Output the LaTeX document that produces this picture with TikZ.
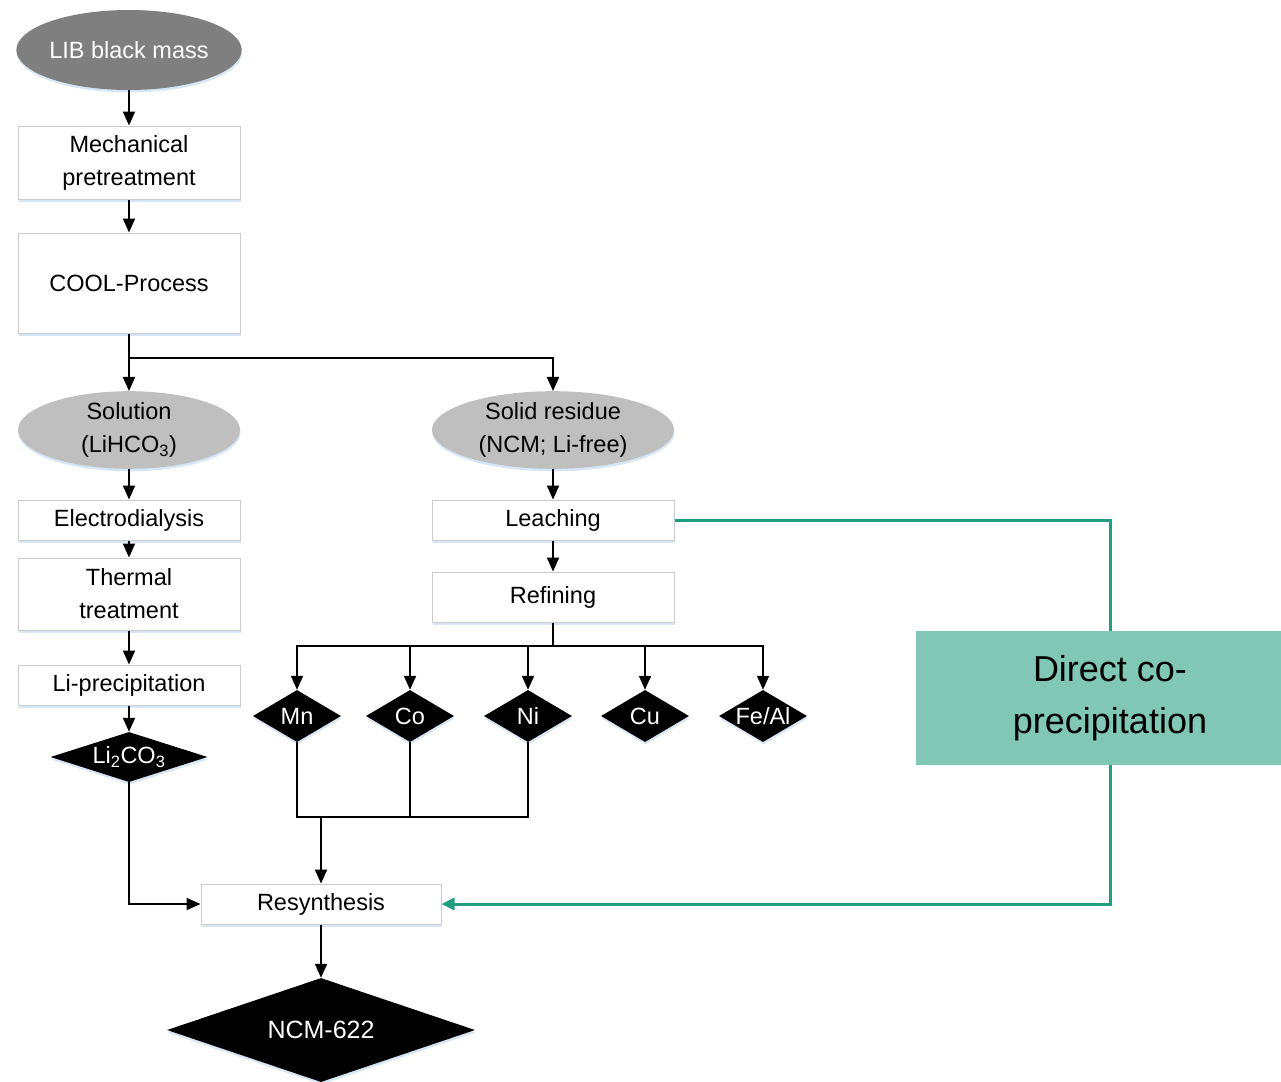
\documentclass[tikz,border=0pt]{standalone}
\usepackage{fontspec}
\setmainfont{Liberation Sans}
\usepackage{tikz}
\usetikzlibrary{shapes.geometric, arrows.meta, shadows}

\definecolor{darkell}{HTML}{7F7F7F}
\definecolor{lightell}{HTML}{BFBFBF}
\definecolor{boxline}{HTML}{CCCCCC}
\definecolor{cooline}{HTML}{1F9E80}
\definecolor{coofill}{HTML}{80C7B6}
\definecolor{glow}{HTML}{D3E3F4}

\begin{document}
\begin{tikzpicture}[x=1pt, y=-1pt,
  txt/.style={font=\fontsize{23.5}{33}\selectfont, align=center, inner sep=0pt},
  glowshadow/.style={drop shadow={shadow xshift=0.5pt, shadow yshift=-2.5pt, fill=glow, opacity=0.9}},
  stepbox/.style={txt, rectangle, draw=boxline, line width=1pt, fill=white, glowshadow},
  blob/.style={txt, ellipse, fill=lightell, glowshadow},
  elem/.style={txt, diamond, aspect=1.7, fill=black, text=white, glowshadow, minimum width=88pt, minimum height=52pt},
  flow/.style={line width=2pt},
  arr/.style={flow, -{Triangle[length=14pt, width=12pt]}},
  coo/.style={line width=3pt, cooline, -{Triangle[length=13pt, width=12pt]}}]

  \useasboundingbox (0,0) rectangle (1281,1081);

  \node[blob, fill=darkell, text=white, minimum width=222pt, minimum height=80pt] (lib) at (129,50) {LIB black mass};
  \node[stepbox, minimum width=222pt, minimum height=73pt] (mech) at (129,162.5) {Mechanical\\pretreatment};
  \node[stepbox, minimum width=222pt, minimum height=100pt] (cool) at (129,283) {COOL-Process};

  \node[blob, minimum width=222pt, minimum height=75pt] (sol) at (129,430) {Solution\\(LiHCO\textsubscript{3})};
  \node[blob, minimum width=242pt, minimum height=75pt] (solid) at (553,430) {Solid residue\\(NCM; Li-free)};

  \node[stepbox, minimum width=222pt, minimum height=40pt] (elec) at (129,520) {Electrodialysis};
  \node[stepbox, minimum width=222pt, minimum height=72pt] (therm) at (129,594) {Thermal\\treatment};
  \node[stepbox, minimum width=222pt, minimum height=40pt] (lip) at (129,685) {Li-precipitation};
  \node[elem, aspect=3.1, minimum width=157pt, minimum height=50pt] (lico) at (129,757) {\makebox[0pt]{Li\textsubscript{2}CO\textsubscript{3}}};

  \node[stepbox, minimum width=242pt, minimum height=40pt] (leach) at (553,520) {Leaching};
  \node[stepbox, minimum width=242pt, minimum height=50pt] (refine) at (553,597) {Refining};

  \node[elem] (mn) at (297,716) {Mn};
  \node[elem] (co) at (410,716) {Co};
  \node[elem] (ni) at (528,716) {Ni};
  \node[elem] (cu) at (645,716) {Cu};
  \node[elem] (feal) at (763,716) {\makebox[0pt]{Fe/Al}};

  \node[stepbox, minimum width=240pt, minimum height=40pt] (resyn) at (321,904) {Resynthesis};
  \node[elem, aspect=3, font=\fontsize{25}{30}\selectfont, minimum width=308pt, minimum height=104pt] (ncm) at (321,1030) {NCM-622};

  \draw[arr] (lib) -- (mech);
  \draw[arr] (mech) -- (cool);
  \draw[flow] (cool.south) -- ++(0,24) coordinate (split);
  \draw[arr] (split) -- (sol);
  \draw[arr] (split) -| (solid);

  \draw[arr] (sol) -- (elec);
  \draw[arr] (elec) -- (therm);
  \draw[arr] (therm) -- (lip);
  \draw[arr] (lip) -- (lico);

  \draw[arr] (solid) -- (leach);
  \draw[arr] (leach) -- (refine);
  \draw[flow] (refine.south) -- ++(0,23) coordinate (fork);
  \foreach \m in {mn, co, ni, cu, feal}
    \draw[arr] (fork) -| (\m);

  \coordinate (merge) at (321,817);
  \draw[flow] (mn.south) |- (merge);
  \draw[flow] (ni.south) |- (merge);
  \draw[flow] (co.south) |- (merge);
  \draw[arr] (merge) -- (resyn);
  \draw[arr] (lico.south) |- (resyn.west);
  \draw[arr] (resyn) -- (ncm);

  \coordinate (gturn) at (1110,904);
  \draw[coo] (leach.east) -| (gturn) -- (resyn.east);
  \node[txt, font=\fontsize{36}{52}\selectfont, fill=coofill, minimum width=388pt, minimum height=134pt] (direct) at (1110,698) {Direct co-\\precipitation};

\end{tikzpicture}
\end{document}
